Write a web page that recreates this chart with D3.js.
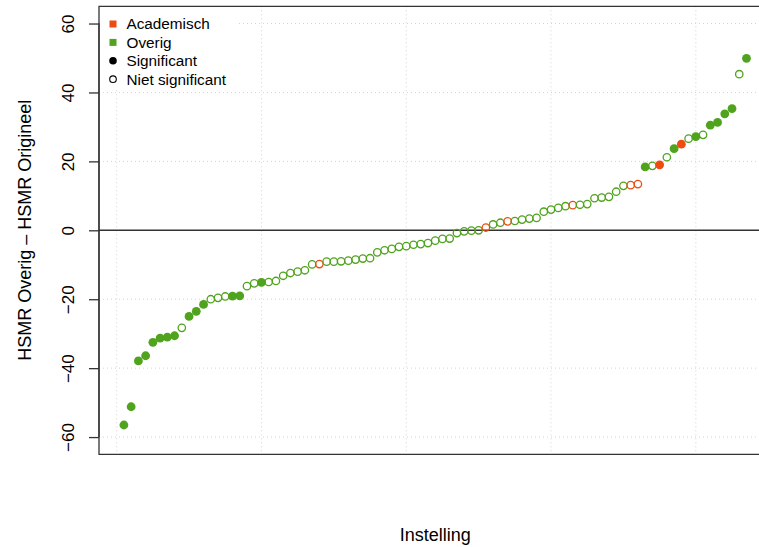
<!DOCTYPE html>
<html>
<head>
<meta charset="utf-8">
<script src="https://cdn.jsdelivr.net/npm/d3@7/dist/d3.min.js"></script>
<style>
  html, body { margin: 0; padding: 0; background: #fff; }
  svg { display: block; font-family: "Liberation Sans", Arial, Helvetica, sans-serif; }
</style>
</head>
<body>
<svg id="chart" width="759" height="547"></svg>
<script>
// Difference HSMR Overig - HSMR Origineel per institution, sorted
const values = [
  -56.5, -51.2, -37.9, -36.4, -32.5, -31.3, -31.0, -30.6, -28.3, -25.0,
  -23.5, -21.5, -20.0, -19.6, -19.2, -19.1, -19.0, -16.2, -15.4, -15.1,
  -15.0, -14.7, -13.2, -12.4, -12.0, -11.6, -9.9, -9.8, -9.1, -9.1,
  -9.0, -8.8, -8.5, -8.2, -8.1, -6.4, -5.8, -5.4, -4.8, -4.6,
  -4.2, -4.0, -3.7, -3.0, -2.5, -2.4, -0.8, -0.3, -0.1, 0.0,
  0.8, 1.7, 2.2, 2.6, 2.7, 3.1, 3.4, 3.6, 5.4, 6.0,
  6.5, 7.0, 7.3, 7.4, 7.6, 9.3, 9.5, 9.7, 11.2, 12.9,
  13.1, 13.4, 18.4, 18.7, 19.0, 21.2, 23.7, 25.0, 26.6, 27.2,
  27.7, 30.5, 31.3, 33.8, 35.3, 45.3, 49.9
];
// 1-based positions of academic institutions
const academisch = [28, 51, 54, 63, 71, 72, 75, 78];
// 1-based positions of significant differences
const significant = [1, 2, 3, 4, 5, 6, 7, 8, 10, 11, 12, 16, 17, 20, 73, 75, 77, 78, 80, 82, 83, 84, 85, 87];
const yTicks = [-60, -40, -20, 0, 20, 40, 60];
const xGrid = [0, 20, 40, 60, 80];
const legendLabels = ["Academisch", "Overig", "Significant", "Niet significant"];

(function () {
const GREEN = "#4fa31d", ORANGE = "#ee4c10";

const data = values.map((v, i) => ({
  idx: i + 1,
  value: v,
  acad: academisch.includes(i + 1),
  sig: significant.includes(i + 1)
}));

const n = values.length;
const ext = (n - 1) * 0.04;
const pLeft = 99, pTop = 6.3, pBottom = 454.3;
const x = d3.scaleLinear().domain([1 - ext, n + ext]).range([pLeft, 771.4]);
const y = d3.scaleLinear().domain([-65, 65]).range([pBottom, pTop]);

const svg = d3.select("#chart");

// grid
const grid = svg.append("g").attr("stroke", "#d3d3d3").attr("stroke-width", 1).attr("stroke-dasharray", "1,3");
grid.selectAll("line.v").data(xGrid).join("line").attr("class", "v")
  .attr("x1", d => x(d)).attr("x2", d => x(d)).attr("y1", pTop).attr("y2", pBottom);
grid.selectAll("line.h").data(yTicks).join("line").attr("class", "h")
  .attr("x1", pLeft).attr("x2", 759).attr("y1", d => y(d)).attr("y2", d => y(d));

// zero line
svg.append("line").attr("x1", pLeft).attr("x2", 759).attr("y1", y(0)).attr("y2", y(0))
  .attr("stroke", "#333").attr("stroke-width", 1.5);

// points
svg.append("g").selectAll("circle").data(data).join("circle")
  .attr("cx", d => x(d.idx)).attr("cy", d => y(d.value))
  .attr("r", d => d.sig ? 4.4 : 3.7)
  .attr("fill", d => d.sig ? (d.acad ? ORANGE : GREEN) : "none")
  .attr("stroke", d => d.acad ? ORANGE : GREEN)
  .attr("stroke-width", d => d.sig ? 0 : 1.3);

// box (left, top, bottom; right side is outside the window)
svg.append("path")
  .attr("d", `M760,${pTop}H${pLeft}V${pBottom}H760`)
  .attr("fill", "none").attr("stroke", "#333").attr("stroke-width", 1.3);

// y axis
const yAxis = d3.axisLeft(y).tickValues(yTicks).tickSize(10).tickPadding(0)
  .tickFormat(d => d < 0 ? "\u2212" + Math.abs(d) : String(d));
const ya = svg.append("g").attr("transform", `translate(${pLeft},0)`).call(yAxis);
ya.select(".domain").attr("d", `M0,${y(60)}V${y(-60)}`).attr("stroke", "#333").attr("stroke-width", 1.3);
ya.selectAll(".tick line").attr("stroke", "#333").attr("stroke-width", 1.3);
ya.selectAll(".tick text")
  .attr("font-size", 17).attr("fill", "#000")
  .attr("font-family", "Liberation Sans, Arial, sans-serif")
  .attr("text-anchor", "middle")
  .attr("transform", "translate(-31,0) rotate(-90)")
  .attr("x", 0).attr("y", 0).attr("dy", "0.35em");

// axis titles
svg.append("text").attr("x", (pLeft + 771.4) / 2).attr("y", 541)
  .attr("text-anchor", "middle").attr("font-size", 18).text("Instelling");
svg.append("text").attr("transform", `translate(31,${(pTop + pBottom) / 2}) rotate(-90)`)
  .attr("text-anchor", "middle").attr("font-size", 18).text("HSMR Overig \u2013 HSMR Origineel");

// legend
const lg = svg.append("g");
lg.append("rect").attr("x", pLeft + 1).attr("y", pTop + 1).attr("width", 136).attr("height", 82).attr("fill", "#fff");
const rowY = i => 24 + i * 18.4;
const legendMarks = [
  {type: "sq", color: ORANGE},
  {type: "sq", color: GREEN},
  {type: "fc", color: "#000"},
  {type: "oc", color: "#000"}
];
legendMarks.forEach((m, i) => {
  if (m.type === "sq") {
    lg.append("rect").attr("x", 109.5).attr("y", rowY(i) - 3.5).attr("width", 7).attr("height", 7).attr("fill", m.color);
  } else if (m.type === "fc") {
    lg.append("circle").attr("cx", 113).attr("cy", rowY(i)).attr("r", 3.8).attr("fill", m.color);
  } else {
    lg.append("circle").attr("cx", 113).attr("cy", rowY(i)).attr("r", 3.3).attr("fill", "none").attr("stroke", m.color).attr("stroke-width", 1.1);
  }
  lg.append("text").attr("x", 126.5).attr("y", rowY(i)).attr("dy", "0.35em")
    .attr("font-size", 15.3).text(legendLabels[i]);
});
})();
</script>
</body>
</html>
